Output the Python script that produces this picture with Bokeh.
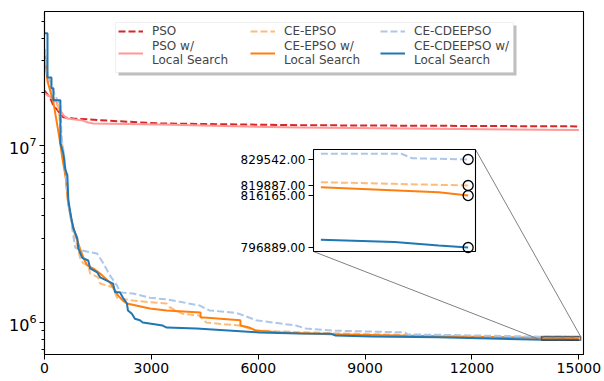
import numpy as np
from bokeh.plotting import figure
from bokeh.models import (Range1d, LinearScale, FixedTicker, Legend, LegendItem,
                          BoxAnnotation)
from bokeh.core.properties import value
from bokeh.embed import file_html
from bokeh.resources import INLINE

# ---------------- data ----------------
pso_x = [0, 167, 251, 362, 530, 809, 1756, 3234, 7137, 15000]
pso_y = [2.04e7, 1.84e7, 1.68e7, 1.58e7, 1.44e7, 1.42e7, 1.38e7, 1.33e7, 1.30e7, 1.28e7]

pso_ls_x = [0, 307, 446, 530, 641, 1087, 1199, 1366, 3234, 7137, 15000]
pso_ls_y = [1.97e7, 1.80e7, 1.58e7, 1.48e7, 1.42e7, 1.38e7, 1.35e7, 1.33e7, 1.31e7, 1.26e7, 1.22e7]

epso_x = [0, 84, 170, 250, 390, 500, 560, 669, 781, 865, 1004, 1087, 1227, 1282, 1505,
          1561, 1924, 2035, 2203, 2481, 3429, 3513, 3875, 4349, 4544, 5465, 5660, 5938,
          8250, 11040, 12500, 14000, 14500, 15000]
epso_y = [3.2e7, 2.4e7, 2.1e7, 1.85e7, 1.64e7, 1.0e7, 8.0e6, 4.6e6, 3.7e6, 3.0e6, 2.3e6,
          2.16e6, 2.1e6, 1.89e6, 1.80e6, 1.66e6, 1.58e6, 1.38e6, 1.36e6, 1.33e6, 1.28e6,
          1.22e6, 1.12e6, 1.095e6, 1.0e6, 9.61e5, 9.37e5, 9.01e5, 8.67e5, 8.45e5, 8.30e5,
          8.2112e5, 8.205e5, 8.19887e5]

epso_ls_x = [0, 84, 170, 250, 420, 500, 600, 650, 700, 780, 900, 1000, 1100, 1200, 1400,
             1561, 1840, 1980, 2063, 2203, 2314, 2955, 3429, 4380, 4380, 5500, 5500, 5743,
             5938, 6500, 8000, 11040, 12500, 14000, 14800, 15000]
epso_ls_y = [3.5e7, 2.3e7, 2.0e7, 1.75e7, 1.1e7, 8.5e6, 6.5e6, 5.0e6, 4.3e6, 3.6e6, 3.0e6,
             2.6e6, 2.3e6, 2.1e6, 2.0e6, 1.89e6, 1.68e6, 1.52e6, 1.42e6, 1.33e6, 1.28e6,
             1.20e6, 1.17e6, 1.14e6, 1.07e6, 1.03e6, 9.61e5, 9.37e5, 9.01e5, 8.80e5, 8.60e5,
             8.37e5, 8.28e5, 8.19265e5, 8.174e5, 8.16165e5]

cdeepso_x = [0, 84, 195, 300, 446, 480, 560, 641, 700, 860, 1060, 1478, 1650, 1840, 2035,
             2119, 2481, 2955, 3429, 3875, 4349, 4628, 5269, 5465, 5938, 7054, 7333, 8057,
             10120, 10204, 11040, 12500, 14000, 14546, 14620, 15000]
cdeepso_y = [3.5e7, 2.5e7, 2.2e7, 1.9e7, 1.7e7, 1.1e7, 8.5e6, 5.5e6, 4.3e6, 2.65e6, 2.55e6,
             2.45e6, 2.16e6, 1.84e6, 1.62e6, 1.48e6, 1.46e6, 1.38e6, 1.35e6, 1.30e6, 1.25e6,
             1.17e6, 1.14e6, 1.12e6, 1.03e6, 9.62e5, 9.25e5, 9.01e5, 8.79e5, 8.56e5, 8.53e5,
             8.42e5, 8.3166e5, 8.3166e5, 8.30e5, 8.29542e5]

cdeepso_ls_x = [0, 84, 84, 195, 195, 250, 250, 446, 446, 530, 585, 641, 669, 753, 809, 920,
                948, 1060, 1227, 1282, 1478, 1561, 1924, 1980, 2119, 2203, 2314, 2342, 2453,
                2537, 2676, 2760, 3318, 3429, 4266, 5269, 6022, 7137, 8057, 8170, 9170,
                11040, 12500, 14000, 14500, 14800, 15000]
cdeepso_ls_y = [4.3e7, 4.3e7, 2.42e7, 2.42e7, 2.1e7, 2.1e7, 1.8e7, 1.8e7, 1.03e7, 9.0e6,
                7.3e6, 6.8e6, 4.9e6, 3.87e6, 3.4e6, 3.0e6, 2.62e6, 2.32e6, 2.24e6, 2.02e6,
                1.92e6, 1.80e6, 1.66e6, 1.48e6, 1.48e6, 1.38e6, 1.28e6, 1.17e6, 1.12e6,
                1.05e6, 1.03e6, 1.0e6, 9.61e5, 9.37e5, 9.25e5, 9.0e5, 8.79e5, 8.67e5, 8.63e5,
                8.45e5, 8.34e5, 8.26e5, 8.12e5, 7.9975e5, 7.989e5, 7.976e5, 7.96889e5]

labels = ["PSO", "PSO w/\nLocal Search", "CE-EPSO", "CE-EPSO w/\nLocal Search",
          "CE-CDEEPSO", "CE-CDEEPSO w/\nLocal Search"]
x_ticks = [0, 3000, 6000, 9000, 12000, 15000]
inset_xlim = (13950, 15050)
inset_ylim = (795400, 833250)
inset_start = 14000

series = [(pso_x, pso_y), (pso_ls_x, pso_ls_y), (epso_x, epso_y), (epso_ls_x, epso_ls_y),
          (cdeepso_x, cdeepso_y), (cdeepso_ls_x, cdeepso_ls_y)]
for sx, sy in series:
    assert len(sx) == len(sy)

colors = ["#d62728", "#ff9896", "#ffbb78", "#ff7f0e", "#aec7e8", "#1f77b4"]
dashes = ["7 3", "solid", "7 3", "solid", "7 3", "solid"]

# ---------------- layout ----------------
W, H = 604, 381
FL, FR, FT, FB = 44, 583, 11, 354          # frame edges (px)
IL, IR, IT, IB = 313, 475, 149, 251        # inset box (px)
LGL, LGR, LGT, LGB = 115, 513, 22, 72      # legend box (px, canvas)
COL_X = [118, 250, 380]                    # legend column starts (px, canvas)
LG_BOTTOM = 67                             # legend items bottom (px, canvas)
X0, X1 = 0, 15130
Y0, Y1 = 6.6e5, 5.7e7

p = figure(width=W, height=H, y_axis_type="log", output_backend="svg",
           toolbar_location=None, x_range=Range1d(X0, X1), y_range=Range1d(Y0, Y1),
           min_border_left=FL, min_border_right=W - FR, min_border_top=FT,
           min_border_bottom=H - FB)
p.background_fill_color = "white"
p.border_fill_color = "white"
p.outline_line_color = "black"
p.outline_line_width = 1.1
p.xgrid.visible = False
p.ygrid.visible = False

font = "DejaVu Sans"
for ax in (p.xaxis[0], p.yaxis[0]):
    ax.axis_line_color = "black"
    ax.axis_line_width = 1.1
    ax.major_tick_line_color = "black"
    ax.minor_tick_line_color = "black"
    ax.major_tick_in = 0
    ax.major_tick_out = 5
    ax.minor_tick_in = 0
    ax.minor_tick_out = 3
    ax.major_label_text_font = font
    ax.major_label_text_color = "black"
    ax.major_label_standoff = 3
p.xaxis[0].major_label_text_font_size = "14px"
p.yaxis[0].major_label_text_font_size = "16px"
p.xaxis[0].ticker = FixedTicker(ticks=x_ticks, minor_ticks=[])
p.yaxis[0].ticker = FixedTicker(
    ticks=[1e6, 1e7],
    minor_ticks=[m * 10.0 ** e for e in (5, 6, 7) for m in range(2, 10)])

# extra ranges for the inset, mapped so that the inset limits fall on the inset box
fx0, fx1 = (IL - FL) / (FR - FL), (IR - FL) / (FR - FL)
fy0, fy1 = (FB - IB) / (FB - FT), (FB - IT) / (FB - FT)
sx_span = (inset_xlim[1] - inset_xlim[0]) / (fx1 - fx0)
sy_span = (inset_ylim[1] - inset_ylim[0]) / (fy1 - fy0)
ex0 = inset_xlim[0] - fx0 * sx_span
ey0 = inset_ylim[0] - fy0 * sy_span
p.extra_x_ranges = {"ix": Range1d(ex0, ex0 + sx_span)}
p.extra_y_ranges = {"iy": Range1d(ey0, ey0 + sy_span)}
p.extra_x_scales = {"ix": LinearScale()}
p.extra_y_scales = {"iy": LinearScale()}


def to_main(fx, fy):
    mx = X0 + fx * (X1 - X0)
    ly0, ly1 = np.log10(Y0), np.log10(Y1)
    return mx, 10 ** (ly0 + fy * (ly1 - ly0))


# ---------------- main curves ----------------
renderers = []
for (sx, sy), c, d in zip(series, colors, dashes):
    r = p.line(sx, sy, line_color=c, line_width=2, line_dash=d)
    renderers.append(r)

# zoom rectangle + connectors
p.quad(left=[inset_xlim[0]], right=[inset_xlim[1]], bottom=[inset_ylim[0]],
       top=[inset_ylim[1]], fill_color="gray", fill_alpha=0.25,
       line_color="#333333", line_alpha=0.7, line_width=1.5)
ll = to_main(fx0, fy0)
ur = to_main(fx1, fy1)
p.segment(x0=[ll[0], ur[0]], y0=[ll[1], ur[1]],
          x1=[inset_xlim[0], inset_xlim[1]], y1=[inset_ylim[0], inset_ylim[1]],
          line_color="gray", line_width=1)

# ---------------- inset ----------------
kw = dict(x_range_name="ix", y_range_name="iy")
p.quad(left=[inset_xlim[0]], right=[inset_xlim[1]], bottom=[inset_ylim[0]],
       top=[inset_ylim[1]], fill_color="white", line_color="black", line_width=1.1, **kw)
finals = []
for (sx, sy), c, d in zip(series[2:], colors[2:], dashes[2:]):
    ax_ = np.array(sx, dtype=float)
    ay_ = np.array(sy, dtype=float)
    m = ax_ >= inset_start
    p.line(ax_[m], ay_[m], line_color=c, line_width=2, line_dash=d, **kw)
    finals.append((sx[-1], sy[-1]))
fx_ = [f[0] for f in finals]
fy_ = [f[1] for f in finals]
p.scatter(fx_, fy_, marker="circle", size=10, fill_color=None, line_color="black",
          line_width=1.3, **kw)
p.ray(x=[inset_xlim[0]] * len(fy_), y=fy_, length=5, length_units="screen",
      angle=np.pi, line_color="black", line_width=1.1, **kw)
p.text(x=[inset_xlim[0]] * len(fy_), y=fy_, text=[f"{v:.2f}" for v in fy_],
       x_offset=-8, text_align="right", text_baseline="middle",
       text_font=value(font), text_font_size="12px", text_color="black", **kw)

# ---------------- legend ----------------
box_kw = dict(left_units="canvas", right_units="canvas", top_units="canvas",
              bottom_units="canvas")
p.add_layout(BoxAnnotation(left=LGL + 3, right=LGR + 3, top=LGT + 3, bottom=LGB + 3,
                           fill_color="gray", fill_alpha=0.5, line_color=None, **box_kw))
p.add_layout(BoxAnnotation(left=LGL, right=LGR, top=LGT, bottom=LGB,
                           fill_color="white", fill_alpha=1, line_color="#cccccc",
                           line_width=1, **box_kw))
for ci in range(3):
    items = [LegendItem(label=labels[2 * ci + k], renderers=[renderers[2 * ci + k]])
             for k in range(2)]
    lg = Legend(items=items, location=(COL_X[ci] - FL, FB - LG_BOTTOM),
                orientation="vertical", label_text_font=font,
                label_text_font_size="12px", glyph_width=25, glyph_height=14,
                label_height=14, label_standoff=9, spacing=1, padding=0, margin=0,
                border_line_color=None, background_fill_alpha=0)
    p.add_layout(lg)

open("out.html", "w").write(file_html(p, INLINE))
